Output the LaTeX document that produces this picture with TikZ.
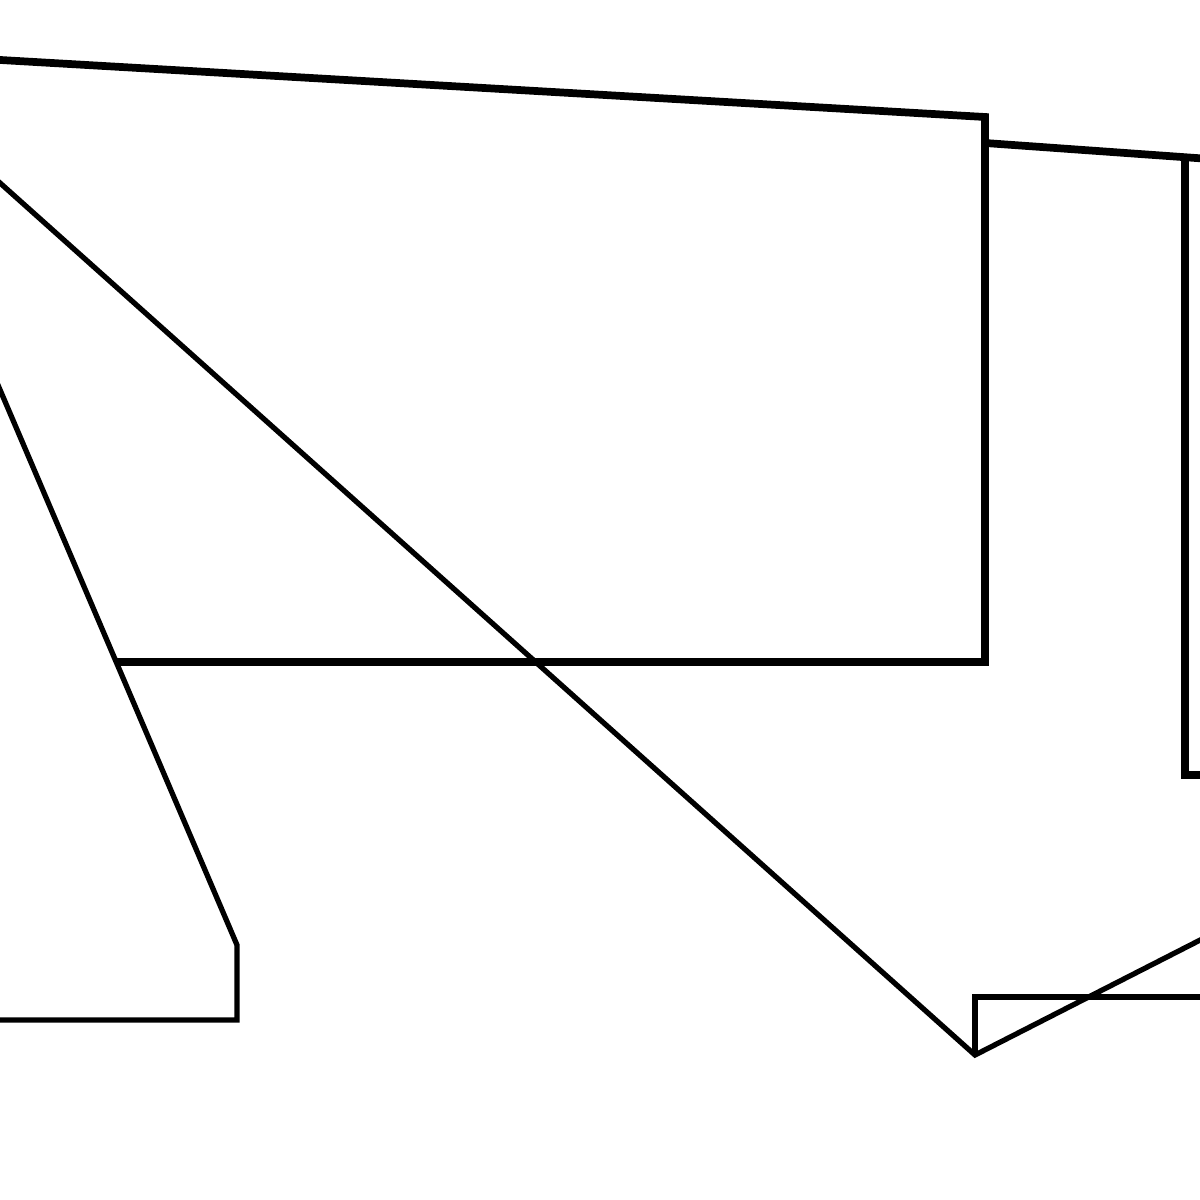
\documentclass[tikz,border=0pt]{standalone}
\begin{document}
\begin{tikzpicture}[x=0.1mm,y=-0.1mm,
		wall/.style={line width=2.2pt},
		rim/.style={line width=1.5pt}]
		\useasboundingbox (0,0) rectangle (1200,1200);
		\clip (0,0) rectangle (1200,1200);

		\draw[wall] (-10,59.4) -- (985,117) -- (985,662) -- (117,662);
		\draw[wall] (985,143) -- (1210,159);
		\draw[wall] (1185,158) -- (1185,775) -- (1210,775);

		\coordinate (tip) at (975,1055);
		\draw[rim] (-10,174) -- (tip) -- (1210,935);
		\draw[rim] (tip) -- (975,997) -- (1210,997);

		\draw[rim] (-5,378) -- (237,945) -- (237,1020) -- (-10,1020);
	\end{tikzpicture}
\end{document}
